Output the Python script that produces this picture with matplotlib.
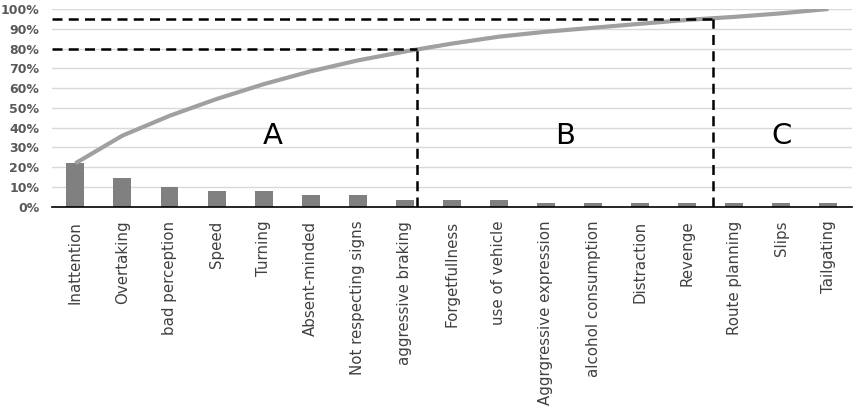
import matplotlib.pyplot as plt
import matplotlib as mpl
import numpy as np

mpl.style.use("default")

causes = ["Inattention", "Overtaking", "bad perception", "Speed", "Turning",
          "Absent-minded", "Not respecting signs", "aggressive braking",
          "Forgetfullness", "use of vehicle", "Aggrgressive expression",
          "alcohol consumption", "Distraction", "Revenge", "Route planning",
          "Slips", "Tailgating"]
share = [22, 14.5, 10, 8, 8, 6, 6, 3.5, 3.5, 3.5, 2, 2, 2, 2, 2, 2, 2]
cumulative = [22, 36, 46, 54.5, 62, 68.5, 74, 78.5, 82.5, 86, 88.5, 90.5,
              92.5, 94.5, 96, 97.8, 100]
yticks = [0, 10, 20, 30, 40, 50, 60, 70, 80, 90, 100]
ytick_labels = ["0%", "10%", "20%", "30%", "40%", "50%", "60%", "70%", "80%", "90%", "100%"]
cut_a, cut_b = 80, 95          # A/B and B/C thresholds
cut_a_x, cut_b_x = 7.26, 13.55  # where the cumulative curve crosses them
zones = ["A", "B", "C"]
zone_x = [4.2, 10.4, 15.0]

fig = plt.figure(figsize=(8.64, 4.08), dpi=100)
ax = fig.add_axes([0.060, 0.493, 0.926, 0.485])

x = np.arange(len(causes))
ax.bar(x, share, width=0.38, color="#808080", zorder=2)
ax.plot(x, cumulative, color="#a0a0a0", lw=3, solid_capstyle="butt", zorder=3)

ax.set_xlim(-0.5, len(causes) - 0.5)
ax.set_ylim(0, 100)
ax.set_yticks(yticks)
ax.set_yticklabels(ytick_labels)
ax.set_xticks(x)
ax.set_xticklabels(causes, rotation=90, fontsize=10.8, color="#404040")
ax.tick_params(axis="both", length=0)
ax.tick_params(axis="y", labelsize=9, labelcolor="#595959", pad=9)
for lab in ax.get_yticklabels():
    lab.set_fontweight("bold")
ax.tick_params(axis="x", pad=10)

ax.grid(axis="y", color="#d9d9d9", lw=1, zorder=0)
for s in ["top", "right", "left"]:
    ax.spines[s].set_visible(False)
ax.spines["bottom"].set_color("black")
ax.spines["bottom"].set_linewidth(1.2)

dash = dict(color="black", lw=1.8, ls=(0, (4, 2.5)), zorder=4)
ax.plot([-0.5, cut_a_x], [cut_a, cut_a], **dash)
ax.plot([-0.5, cut_b_x], [cut_b, cut_b], **dash)
ax.plot([cut_a_x, cut_a_x], [0, cut_a], **dash)
ax.plot([cut_b_x, cut_b_x], [0, cut_b], **dash)

for zx, z in zip(zone_x, zones):
    ax.text(zx, 36, z, fontsize=21, ha="center", va="center", color="black")

fig.savefig("out.png", dpi=100)
